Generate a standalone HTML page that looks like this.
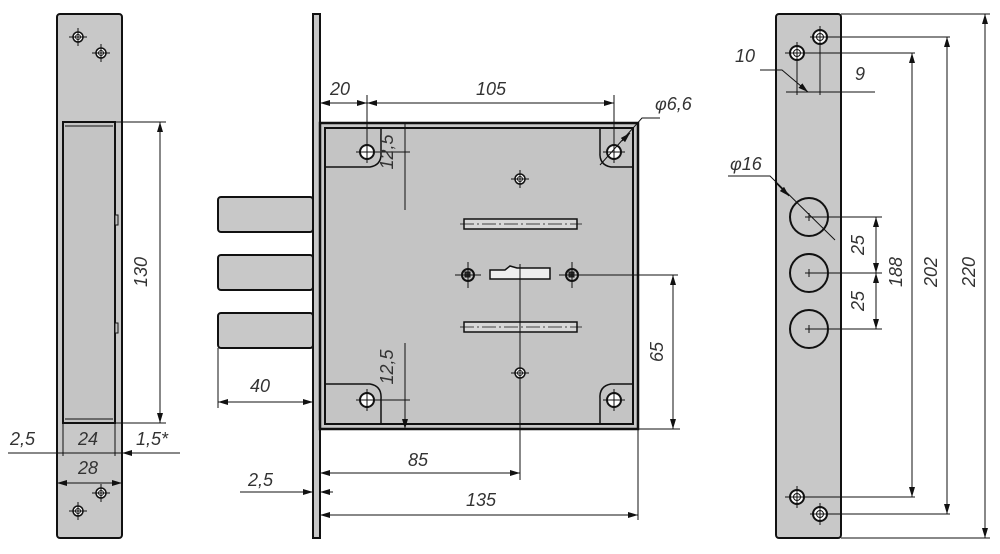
<!DOCTYPE html>
<html><head><meta charset="utf-8"><style>
html,body{margin:0;padding:0;background:#fff;}
svg{display:block}
text{font-family:"Liberation Sans",sans-serif;font-style:italic;font-size:18px;fill:#333;}
</style></head><body>
<svg width="1000" height="554" viewBox="0 0 1000 554" xmlns="http://www.w3.org/2000/svg">
<defs>
<marker id="a" viewBox="0 0 10 6" refX="10" refY="3" markerWidth="10" markerHeight="6" orient="auto-start-reverse" markerUnits="userSpaceOnUse"><path d="M0,0L10,3L0,6z" fill="#111"/></marker>
<g id="hole"><circle r="5" fill="#fff" stroke="#111" stroke-width="1.5"/><circle r="2.5" fill="none" stroke="#111" stroke-width="1"/><path d="M-9,0H9M0,-9V9" stroke="#111" stroke-width="1"/></g>
<g id="chole"><circle r="7" fill="#fff" stroke="#111" stroke-width="2"/><path d="M-11,0H11M0,-11V11" stroke="#111" stroke-width="1"/></g>
</defs>
<g stroke="#111" fill="none" stroke-width="1">
<rect x="57" y="14" width="65" height="524" rx="3" fill="#c8c8c8" stroke-width="2"/>
<rect x="63" y="122" width="52" height="301" fill="#c4c4c4" stroke-width="2"/>
<line x1="65" y1="126" x2="113" y2="126"/><line x1="65" y1="419" x2="113" y2="419"/>
<rect x="115" y="215" width="3" height="10" fill="#c4c4c4"/><rect x="115" y="323" width="3" height="10" fill="#c4c4c4"/>
<use href="#hole" x="78" y="37"/><use href="#hole" x="101" y="53"/>
<use href="#hole" x="101" y="493"/><use href="#hole" x="78" y="511"/>
<line x1="115" y1="122" x2="166" y2="122"/><line x1="115" y1="423" x2="166" y2="423"/>
<line x1="160" y1="122" x2="160" y2="423" marker-start="url(#a)" marker-end="url(#a)"/>
<line x1="63" y1="423" x2="63" y2="456"/><line x1="115" y1="423" x2="115" y2="456"/><line x1="122" y1="423" x2="122" y2="490"/><line x1="57" y1="423" x2="57" y2="490"/>
<line x1="8" y1="453" x2="180" y2="453"/>
<path d="M46,453H57M73,453H63M105,453H115M132,453H122" marker-end="url(#a)"/>
<line x1="57" y1="483" x2="122" y2="483" marker-start="url(#a)" marker-end="url(#a)"/>
<rect x="313" y="14" width="7" height="524" fill="#c8c8c8" stroke-width="2"/>
<rect x="218" y="197" width="95" height="35" rx="3" fill="#c8c8c8" stroke-width="2"/>
<rect x="218" y="255" width="95" height="35" rx="3" fill="#c8c8c8" stroke-width="2"/>
<rect x="218" y="313" width="95" height="35" rx="3" fill="#c8c8c8" stroke-width="2"/>
<rect x="320" y="123" width="318" height="306" fill="#c8c8c8" stroke-width="2.5"/>
<rect x="325" y="128" width="308" height="296" fill="#c4c4c4" stroke-width="2"/>
<path d="M325,167H370Q382,165 381,152V128" stroke-width="1.5"/>
<path d="M633,167H611Q599,165 600,152V128" stroke-width="1.5"/>
<path d="M325,384H370Q382,386 381,399V424" stroke-width="1.5"/>
<path d="M633,384H611Q599,386 600,399V424" stroke-width="1.5"/>
<use href="#chole" x="367" y="152"/><use href="#chole" x="614" y="152"/>
<use href="#chole" x="367" y="400"/><use href="#chole" x="614" y="400"/>
<use href="#hole" x="520" y="179"/><use href="#hole" x="520" y="373"/>
<rect x="464" y="219" width="113" height="10" fill="#d8d8d8" stroke-width="1.5"/>
<rect x="464" y="322" width="113" height="10" fill="#d8d8d8" stroke-width="1.5"/>
<path d="M460,224H582M460,327H582" stroke-dasharray="14,3,2,3" stroke-width="0.8"/>
<path d="M490,270H505L510,266L517,268H550V279H490Z" fill="#eee" stroke-width="1.5"/>
<circle cx="468" cy="275" r="6" fill="#c8c8c8" stroke-width="2"/><rect x="465" y="272" width="5" height="5" fill="#333"/>
<circle cx="572" cy="275" r="6" fill="#c8c8c8" stroke-width="2"/><rect x="569" y="272" width="5" height="5" fill="#333"/>
<path d="M455,275H481M468,262V288M559,275H678M572,262V288"/>
<line x1="520" y1="264" x2="520" y2="480"/>
<line x1="320" y1="95" x2="320" y2="123"/><line x1="367" y1="95" x2="367" y2="152"/><line x1="614" y1="95" x2="614" y2="152"/>
<line x1="320" y1="103" x2="367" y2="103" marker-start="url(#a)" marker-end="url(#a)"/>
<line x1="367" y1="103" x2="614" y2="103" marker-start="url(#a)" marker-end="url(#a)"/>
<path d="M660,118H642L600,165"/><path d="M622,141L630,133" marker-end="url(#a)"/>
<line x1="367" y1="152" x2="410" y2="152"/><line x1="367" y1="400" x2="410" y2="400"/>
<line x1="405" y1="123" x2="405" y2="210"/><line x1="405" y1="343" x2="405" y2="429"/>
<path d="M405,135V123M405,140V152M405,388V400M405,417V429" marker-end="url(#a)"/>
<line x1="638" y1="429" x2="680" y2="429"/>
<line x1="673" y1="275" x2="673" y2="429" marker-start="url(#a)" marker-end="url(#a)"/>
<line x1="218" y1="348" x2="218" y2="408"/>
<line x1="218" y1="402" x2="313" y2="402" marker-start="url(#a)" marker-end="url(#a)"/>
<line x1="320" y1="429" x2="320" y2="520"/><line x1="638" y1="429" x2="638" y2="520"/>
<line x1="320" y1="473" x2="520" y2="473" marker-start="url(#a)" marker-end="url(#a)"/>
<line x1="320" y1="515" x2="638" y2="515" marker-start="url(#a)" marker-end="url(#a)"/>
<line x1="240" y1="492" x2="313" y2="492" marker-end="url(#a)"/><path d="M333,492H320" marker-end="url(#a)"/>
<rect x="776" y="14" width="65" height="524" rx="3" fill="#c8c8c8" stroke-width="2"/>
<g><circle cx="820" cy="37" r="7" fill="#fff" stroke-width="2"/><circle cx="820" cy="37" r="3.5"/></g>
<g><circle cx="797" cy="53" r="7" fill="#fff" stroke-width="2"/><circle cx="797" cy="53" r="3.5"/></g>
<g><circle cx="797" cy="497" r="7" fill="#fff" stroke-width="2"/><circle cx="797" cy="497" r="3.5"/></g>
<g><circle cx="820" cy="514" r="7" fill="#fff" stroke-width="2"/><circle cx="820" cy="514" r="3.5"/></g>
<path d="M810,37H950M820,26V95M785,53H915M797,42V95M785,497H915M797,486V508M810,514H950M820,503V525"/>
<circle cx="809" cy="217" r="19" fill="#c8c8c8" stroke-width="2"/>
<circle cx="809" cy="273" r="19" fill="#c8c8c8" stroke-width="2"/>
<circle cx="809" cy="329" r="19" fill="#c8c8c8" stroke-width="2"/>
<path d="M805,217H882M809,213V221M805,273H882M809,269V277M805,329H882M809,325V333"/>
<path d="M728,176H770L835,240"/><path d="M775,182L789,196" marker-end="url(#a)"/>
<line x1="786" y1="92" x2="875" y2="92"/>
<path d="M787,92H797M830,92H820M760,70H782L808,92" marker-end="url(#a)"/>
<line x1="841" y1="14" x2="990" y2="14"/><line x1="841" y1="538" x2="990" y2="538"/>
<line x1="985" y1="14" x2="985" y2="538" marker-start="url(#a)" marker-end="url(#a)"/>
<line x1="947" y1="37" x2="947" y2="514" marker-start="url(#a)" marker-end="url(#a)"/>
<line x1="912" y1="53" x2="912" y2="497" marker-start="url(#a)" marker-end="url(#a)"/>
<line x1="876" y1="217" x2="876" y2="273" marker-start="url(#a)" marker-end="url(#a)"/>
<line x1="876" y1="273" x2="876" y2="329" marker-start="url(#a)" marker-end="url(#a)"/>
</g>
<text x="147" y="272" transform="rotate(-90 147 272)" text-anchor="middle">130</text>
<text x="10" y="445">2,5</text>
<text x="78" y="445">24</text>
<text x="136" y="445">1,5*</text>
<text x="78" y="474">28</text>
<text x="330" y="95">20</text>
<text x="476" y="95">105</text>
<text x="655" y="110">φ6,6</text>
<text x="393" y="152" transform="rotate(-90 393 152)" text-anchor="middle">12,5</text>
<text x="393" y="367" transform="rotate(-90 393 367)" text-anchor="middle">12,5</text>
<text x="663" y="352" transform="rotate(-90 663 352)" text-anchor="middle">65</text>
<text x="250" y="392">40</text>
<text x="408" y="466">85</text>
<text x="248" y="486">2,5</text>
<text x="466" y="506">135</text>
<text x="735" y="62">10</text>
<text x="855" y="80">9</text>
<text x="730" y="170">φ16</text>
<text x="864" y="245" transform="rotate(-90 864 245)" text-anchor="middle">25</text>
<text x="864" y="301" transform="rotate(-90 864 301)" text-anchor="middle">25</text>
<text x="902" y="272" transform="rotate(-90 902 272)" text-anchor="middle">188</text>
<text x="937" y="272" transform="rotate(-90 937 272)" text-anchor="middle">202</text>
<text x="975" y="272" transform="rotate(-90 975 272)" text-anchor="middle">220</text>
</svg>
</body></html>
